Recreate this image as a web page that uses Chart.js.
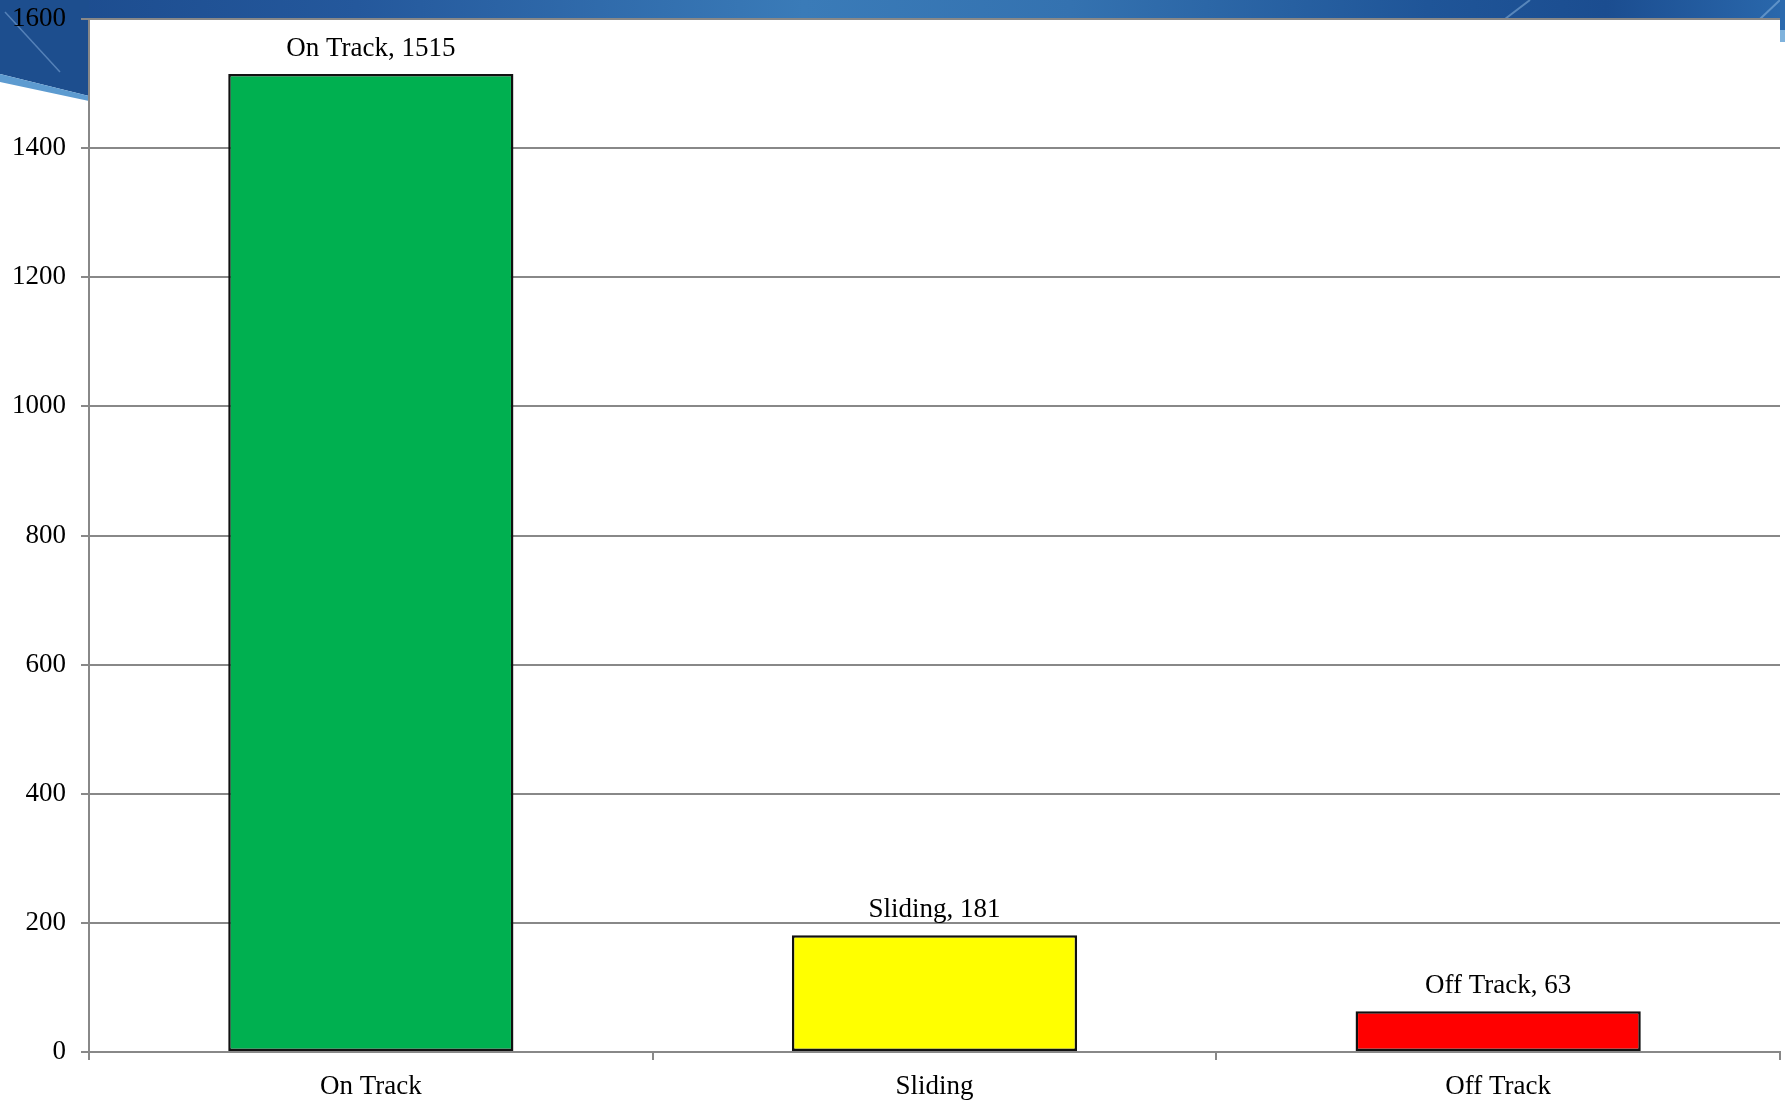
<!DOCTYPE html>
<html>
<head>
<meta charset="utf-8">
<script src="https://cdn.jsdelivr.net/npm/chart.js@4/dist/chart.umd.min.js"></script>
<style>
  html, body { margin: 0; padding: 0; background: #ffffff; }
  #wrap { width: 1785px; height: 1101px; position: relative; }
  canvas { display: block; }
</style>
</head>
<body>
<div id="wrap"><canvas id="c" width="1785" height="1101"></canvas></div>
<script>
const categories = ["On Track", "Sliding", "Off Track"];
const counts = [1515, 181, 63];
const barColors = ["#00B050", "#FFFF00", "#FF0000"];
const yTicks = [0, 200, 400, 600, 800, 1000, 1200, 1400, 1600];

const FONT = "'Liberation Serif', 'Times New Roman', serif";
const FSIZE = 27;

const backgroundPlugin = {
  id: 'slideBackground',
  beforeDraw(chart) {
    const ctx = chart.ctx;
    const W = chart.width, H = chart.height;
    const area = chart.chartArea;
    ctx.save();
    ctx.fillStyle = '#ffffff';
    ctx.fillRect(0, 0, W, H);
    const g = ctx.createLinearGradient(0, 0, W, 0);
    g.addColorStop(0, '#1b4a8c');
    g.addColorStop(0.2, '#24589c');
    g.addColorStop(0.45, '#3a7bb8');
    g.addColorStop(0.6, '#3472b0');
    g.addColorStop(0.8, '#1f5598');
    g.addColorStop(0.9, '#1b4d90');
    g.addColorStop(1, '#2a68ac');
    ctx.fillStyle = g;
    ctx.fillRect(0, 0, W, area.top);
    ctx.fillStyle = '#1d4e8e';
    ctx.beginPath();
    ctx.moveTo(0, 0);
    ctx.lineTo(area.left, 0);
    ctx.lineTo(area.left, 96);
    ctx.lineTo(0, 74);
    ctx.closePath();
    ctx.fill();
    ctx.fillStyle = '#5d9bd0';
    ctx.beginPath();
    ctx.moveTo(0, 74);
    ctx.lineTo(area.left, 96);
    ctx.lineTo(area.left, 101);
    ctx.lineTo(0, 82);
    ctx.closePath();
    ctx.fill();
    ctx.strokeStyle = 'rgba(140,180,225,0.5)';
    ctx.lineWidth = 1.5;
    ctx.beginPath();
    ctx.moveTo(5, 12);
    ctx.lineTo(60, 72);
    ctx.stroke();
    ctx.strokeStyle = 'rgba(160,200,235,0.45)';
    ctx.lineWidth = 2;
    ctx.beginPath();
    ctx.moveTo(1505, area.top);
    ctx.lineTo(1530, 0);
    ctx.moveTo(1760, area.top);
    ctx.lineTo(1780, 0);
    ctx.stroke();
    ctx.fillStyle = '#2c6aae';
    ctx.fillRect(area.right, 0, W - area.right, 42);
    ctx.fillStyle = '#7fb2dc';
    ctx.fillRect(area.right, 30, W - area.right, 12);
    ctx.restore();
  }
};

const dataLabelPlugin = {
  id: 'barValueLabels',
  afterDatasetsDraw(chart) {
    const ctx = chart.ctx;
    const meta = chart.getDatasetMeta(0);
    const ds = chart.data.datasets[0];
    ctx.save();
    ctx.font = FSIZE + 'px ' + FONT;
    ctx.fillStyle = '#000000';
    ctx.textAlign = 'center';
    ctx.textBaseline = 'middle';
    meta.data.forEach((bar, i) => {
      const text = chart.data.labels[i] + ', ' + ds.data[i];
      ctx.fillText(text, bar.x, bar.y - 25);
    });
    ctx.restore();
  }
};

new Chart(document.getElementById('c'), {
  type: 'bar',
  data: {
    labels: categories,
    datasets: [{
      data: counts,
      backgroundColor: barColors,
      borderColor: '#111111',
      borderWidth: 2.5,
      borderSkipped: false,
      barPercentage: 0.506,
      categoryPercentage: 1.0
    }]
  },
  options: {
    responsive: false,
    animation: false,
    devicePixelRatio: 1,
    layout: { padding: { top: 19, right: 5, left: 0, bottom: 0 } },
    plugins: {
      legend: { display: false },
      tooltip: { enabled: false }
    },
    scales: {
      x: {
        offset: true,
        grid: {
          display: true,
          offset: true,
          drawOnChartArea: false,
          drawTicks: true,
          tickLength: 8,
          color: '#888888',
          lineWidth: 2
        },
        border: { display: true, color: '#888888', width: 2 },
        ticks: {
          color: '#000000',
          font: { family: FONT, size: FSIZE },
          padding: 11,
          maxRotation: 0
        },
        afterFit(scale) {
          scale.height = 49;
          scale.paddingLeft = 0; scale.paddingRight = 0;
        }
      },
      y: {
        min: 0,
        max: 1600,
        afterBuildTicks(scale) { scale.ticks = yTicks.map(v => ({ value: v })); },
        grid: {
          color: '#888888',
          lineWidth: 2,
          tickLength: 8,
          drawTicks: true
        },
        border: { display: true, color: '#888888', width: 2 },
        ticks: {
          color: '#000000',
          font: { family: FONT, size: FSIZE },
          padding: 15,
          callback: (v) => String(v)
        },
        afterFit(scale) {
          scale.width = 89;
          scale.paddingTop = 0; scale.paddingBottom = 0;
        }
      }
    }
  },
  plugins: [backgroundPlugin, dataLabelPlugin]
});
</script>
</body>
</html>
